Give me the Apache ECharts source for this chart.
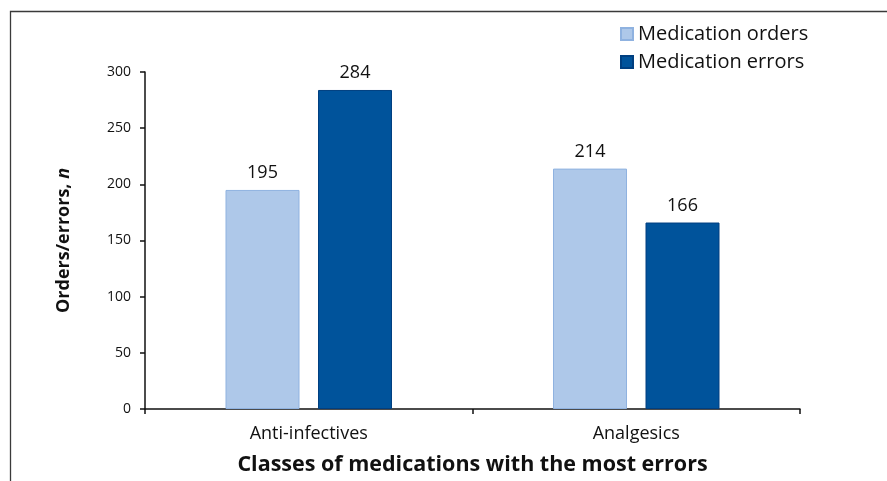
<!DOCTYPE html>
<html><head><meta charset="utf-8">
<script src="https://cdn.jsdelivr.net/npm/echarts@6/dist/echarts.min.js"></script>
<style>html,body{margin:0;padding:0;background:#fff}#c{width:887px;height:481px}</style>
</head><body><div id="c"></div>
<script>
const categories = ['Anti-infectives', 'Analgesics'];
const seriesNames = ['Medication orders', 'Medication errors'];
const ordersValues = [195, 214];
const errorsValues = [284, 166];
const yTicks = [0, 50, 100, 150, 200, 250, 300];

const FONT = '"Open Sans", "Noto Sans", sans-serif';
const chart = echarts.init(document.getElementById('c'), null, {renderer: 'canvas'});
chart.setOption({
  animation: false,
  backgroundColor: '#fff',
  textStyle: {fontFamily: FONT},
  graphic: [{
    type: 'polyline', silent: true,
    shape: {points: [[10.5, 481], [10.5, 11.5], [887, 11.5]]},
    style: {stroke: '#3a3a3a', lineWidth: 1.3, fill: null}
  }],
  legend: {
    orient: 'vertical', left: 615, top: 19,
    itemWidth: 12, itemHeight: 12, itemGap: 8,
    icon: 'rect',
    textStyle: {fontSize: 20, color: '#111', fontFamily: FONT},
    data: seriesNames
  },
  grid: {left: 145, right: 87, top: 72, bottom: 70, containLabel: false},
  xAxis: {
    type: 'category', data: categories,
    name: 'Classes of medications with the most errors',
    nameLocation: 'middle', nameGap: 45,
    nameTextStyle: {fontSize: 21.5, fontWeight: 'bold', color: '#111', fontFamily: FONT},
    axisLine: {lineStyle: {color: '#111', width: 1.5}},
    axisTick: {show: true, length: 5, lineStyle: {color: '#111', width: 1.5}},
    axisLabel: {fontSize: 18, color: '#111', margin: 16, fontFamily: FONT}
  },
  yAxis: {
    type: 'value', min: yTicks[0], max: yTicks[yTicks.length - 1], interval: 50,
    name: '{b|Orders/errors, }{i|n}',
    nameLocation: 'middle', nameGap: 72, nameRotate: 90,
    nameTextStyle: {
      rich: {
        b: {fontSize: 18, fontWeight: 'bold', color: '#111', fontFamily: FONT},
        i: {fontSize: 18, fontWeight: 'bold', fontStyle: 'italic', color: '#111', fontFamily: FONT}
      }
    },
    splitLine: {show: false},
    axisLine: {show: true, lineStyle: {color: '#111', width: 1.5}},
    axisTick: {show: true, length: 5, lineStyle: {color: '#111', width: 1.5}},
    axisLabel: {fontSize: 14, color: '#111', margin: 14, fontFamily: FONT}
  },
  series: [{
    name: seriesNames[0], type: 'bar', data: ordersValues,
    barWidth: 74, barGap: '25%',
    itemStyle: {color: '#aec8e9', borderColor: '#8fb2e0', borderWidth: 1},
    label: {show: true, position: 'top', distance: 8, fontSize: 18, color: '#111', fontFamily: FONT}
  }, {
    name: seriesNames[1], type: 'bar', data: errorsValues,
    barWidth: 74,
    itemStyle: {color: '#00539b', borderColor: '#003f80', borderWidth: 1},
    label: {show: true, position: 'top', distance: 8, fontSize: 18, color: '#111', fontFamily: FONT}
  }]
});
</script></body></html>
